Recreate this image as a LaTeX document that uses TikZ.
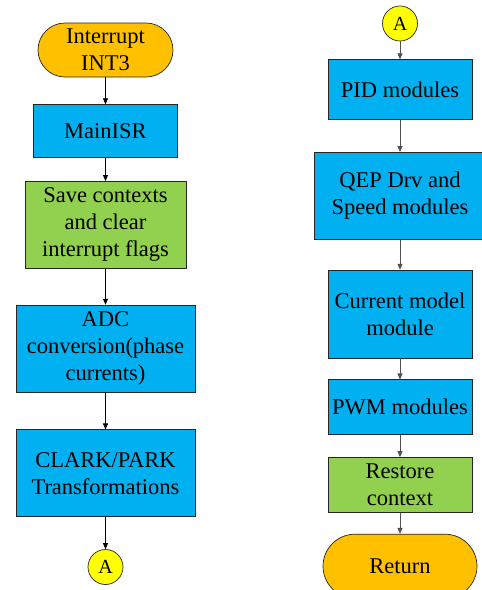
\documentclass[tikz,border=0pt]{standalone}
\usepackage{fontspec}
\setmainfont{Liberation Serif}
\usepackage{tikz}
\usetikzlibrary{arrows.meta, positioning}
\definecolor{termorange}{HTML}{FFC000}
\definecolor{procblue}{HTML}{00B0F0}
\definecolor{ctxgreen}{HTML}{92D050}
\definecolor{connyellow}{HTML}{FFFF00}
\definecolor{linegray}{HTML}{505050}

\begin{document}
\begin{tikzpicture}[
  x=1pt, y=1pt,
  block/.style={draw=black!85, line width=0.7pt, inner sep=2pt, align=center, font=\fontsize{22.5}{27}\selectfont},
  term/.style={block, fill=termorange, rounded corners=27pt},
  proc/.style={block, fill=procblue},
  ctx/.style={block, fill=ctxgreen},
  conn/.style={block, circle, fill=connyellow, minimum size=35pt, inner sep=0pt, font=\fontsize{20}{24}\selectfont},
  arr/.style={-{Triangle[length=6pt, width=5pt]}, line width=0.7pt, draw=black},
  arrg/.style={arr, draw=linegray},
]
  \useasboundingbox (0,0) rectangle (482,-590);

  % left column
  \node[term, minimum width=135pt, minimum height=54pt] (intr) at (105.5,-50) {Interrupt\\INT3};
  \node[proc, minimum width=144pt, minimum height=53pt, below=27pt of intr] (mainisr) {MainISR};
  \node[ctx, minimum width=161pt, minimum height=87pt, below=23pt of mainisr] (save) {Save contexts\\and clear\\interrupt flags};
  \node[proc, minimum width=179pt, minimum height=87pt, below=36pt of save] (adc) {ADC\\conversion(phase\\currents)};
  \node[proc, minimum width=179pt, minimum height=87pt, below=37pt of adc] (clark) {CLARK/PARK\\Transformations};
  \node[conn, below=32pt of clark] (outA) {A};

  % right column
  \node[conn] (inA) at (400,-23.5) {A};
  \node[proc, minimum width=144pt, minimum height=60pt, below=18pt of inA] (pid) {PID modules};
  \node[proc, minimum width=172pt, minimum height=87pt, below=32pt of pid] (qep) {QEP Drv and\\Speed modules};
  \node[proc, minimum width=144pt, minimum height=88pt, below=30pt of qep] (curr) {Current model\\module};
  \node[proc, minimum width=144pt, minimum height=55pt, below=21pt of curr] (pwm) {PWM modules};
  \node[ctx, minimum width=144pt, minimum height=55pt, below=22pt of pwm] (restore) {Restore\\context};
  \node[term, minimum width=154pt, minimum height=64pt, rounded corners=32pt, below=21pt of restore] (ret) {Return};

  \draw[arr] (intr) -- (mainisr);
  \draw[arr] (mainisr) -- (save);
  \draw[arr] (save) -- (adc);
  \draw[arr] (adc) -- (clark);
  \draw[arr] (clark) -- (outA);

  \draw[arrg] (inA) -- (pid);
  \draw[arrg] (pid) -- (qep);
  \draw[arrg] (qep) -- (curr);
  \draw[arrg] (curr) -- (pwm);
  \draw[arrg] (pwm) -- (restore);
  \draw[arrg] (restore) -- (ret);
\end{tikzpicture}
\end{document}
